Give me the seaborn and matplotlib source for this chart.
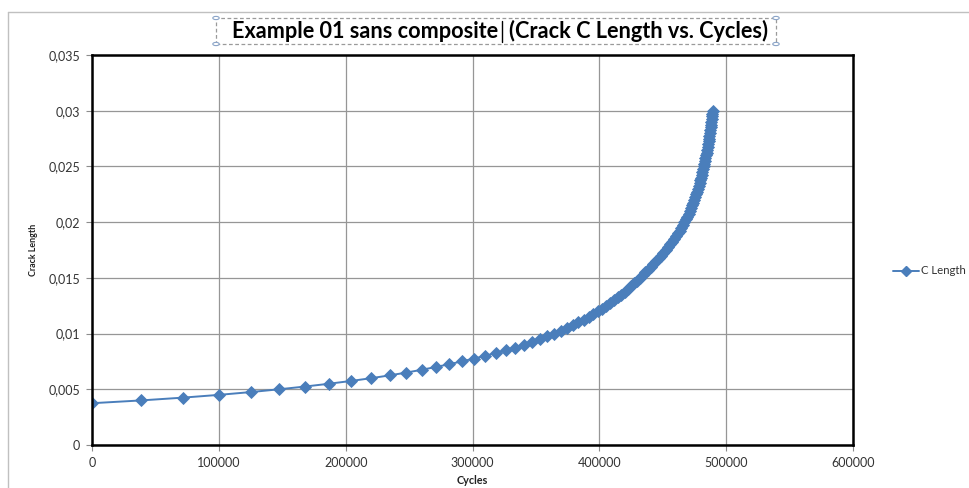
import matplotlib
matplotlib.use("Agg")
import matplotlib.pyplot as plt
from matplotlib.patches import Rectangle, Circle
from matplotlib.lines import Line2D
from matplotlib.ticker import FixedLocator, FixedFormatter
import pandas as pd
import seaborn as sns

# Crack length (m) recorded at each growth increment
crack_length = [
    0.00375, 0.00400, 0.00425, 0.00450, 0.00475, 0.00500, 0.00525, 0.00550,
    0.00575, 0.00600, 0.00625, 0.00650, 0.00675, 0.00700, 0.00725, 0.00750,
    0.00775, 0.00800, 0.00825, 0.00850, 0.00875, 0.00900, 0.00925, 0.00950,
    0.00975, 0.01000, 0.01025, 0.01050, 0.01075, 0.01100, 0.01125, 0.01150,
    0.01175, 0.01200, 0.01225, 0.01250, 0.01275, 0.01300, 0.01325, 0.01350,
    0.01375, 0.01400, 0.01425, 0.01450, 0.01475, 0.01500, 0.01525, 0.01550,
    0.01575, 0.01600, 0.01625, 0.01650, 0.01675, 0.01700, 0.01725, 0.01750,
    0.01775, 0.01800, 0.01825, 0.01850, 0.01875, 0.01900, 0.01925, 0.01950,
    0.01975, 0.02000, 0.02025, 0.02050, 0.02075, 0.02100, 0.02125, 0.02150,
    0.02175, 0.02200, 0.02225, 0.02250, 0.02275, 0.02300, 0.02325, 0.02350,
    0.02375, 0.02400, 0.02425, 0.02450, 0.02475, 0.02500, 0.02525, 0.02550,
    0.02575, 0.02600, 0.02625, 0.02650, 0.02675, 0.02700, 0.02725, 0.02750,
    0.02775, 0.02800, 0.02825, 0.02850, 0.02875, 0.02900, 0.02925, 0.02950,
    0.02975, 0.03000,
]

# Accumulated load cycles at each crack length
cycles = [
    0, 38600, 71600, 100200, 125200, 147500, 168300, 187000,
    204400, 220300, 234700, 247900, 259900, 271100, 281600, 291500,
    300900, 309800, 318200, 326100, 333500, 340400, 346900, 353100,
    359000, 364600, 369700, 374500, 379100, 383500, 387600, 391500,
    395300, 398800, 402200, 405400, 408600, 411500, 414400, 417200,
    419900, 422400, 424900, 427300, 429700, 431900, 434100, 436300,
    438500, 440600, 442700, 444800, 446700, 448700, 450500, 452300,
    454100, 455800, 457400, 459000, 460500, 461900, 463300, 464600,
    465900, 467100, 468300, 469400, 470400, 471400, 472300, 473200,
    474000, 474800, 475600, 476400, 477100, 477700, 478400, 479000,
    479600, 480200, 480700, 481300, 481800, 482300, 482800, 483200,
    483700, 484100, 484500, 484900, 485300, 485700, 486100, 486400,
    486800, 487100, 487400, 487800, 488100, 488400, 488700, 488900,
    489200, 489500,
]

series_name = "C Length"
x_ticks = [0, 100000, 200000, 300000, 400000, 500000, 600000]
x_tick_labels = ["0", "100000", "200000", "300000", "400000", "500000", "600000"]
y_ticks = [0, 0.005, 0.01, 0.015, 0.02, 0.025, 0.03, 0.035]
y_tick_labels = ["0", "0,005", "0,01", "0,015", "0,02", "0,025", "0,03", "0,035"]
title_left = "Example 01 sans composite"
title_right = "(Crack C Length vs. Cycles)"
x_label = "Cycles"
y_label = "Crack Length"

sns.set_theme(style="white")
plt.rcParams["font.family"] = ["Lato", "DejaVu Sans"]

W, H = 969, 488
fig = plt.figure(figsize=(W / 100, H / 100), dpi=100)
fig.patch.set_facecolor("white")


def fx(px):
    return px / W


def fy(py):
    return 1 - py / H


ax = fig.add_axes([fx(92), fy(445), fx(853) - fx(92), fy(55) - fy(445)])

df = pd.DataFrame({"Cycles": cycles, "Crack Length": crack_length})
blue = "#4a7ebb"
sns.lineplot(data=df, x="Cycles", y="Crack Length", ax=ax, sort=False,
             estimator=None, color=blue, linewidth=1.4, marker="D",
             markersize=5.8, markeredgecolor=blue, markeredgewidth=0.6,
             label=series_name, legend=False)

ax.set_xlim(x_ticks[0], x_ticks[-1])
ax.set_ylim(y_ticks[0], y_ticks[-1])
ax.xaxis.set_major_locator(FixedLocator(x_ticks))
ax.xaxis.set_major_formatter(FixedFormatter(x_tick_labels))
ax.yaxis.set_major_locator(FixedLocator(y_ticks))
ax.yaxis.set_major_formatter(FixedFormatter(y_tick_labels))

ax.grid(True, color="#969696", linewidth=0.9)
ax.set_axisbelow(True)
for side in ax.spines.values():
    side.set_visible(True)
    side.set_color("black")
    side.set_linewidth(1.8)

ax.tick_params(axis="both", which="major", direction="out", length=4,
               width=0.8, color="#8c8c8c", labelsize=9, labelcolor="#333333",
               pad=4.5)
ax.tick_params(axis="x", bottom=True)
ax.tick_params(axis="y", left=True)

ax.set_xlabel("")
ax.set_ylabel("")
fig.text(fx(472), fy(481), x_label, ha="center", va="center",
         fontsize=7.8, fontweight="bold", color="#222222")
fig.text(fx(33), fy(250), y_label, ha="center", va="center", rotation=90,
         fontsize=6.4, fontweight="bold", color="#222222")

# Legend to the right of the plot area
handle = Line2D([], [], color=blue, linewidth=1.4, marker="D", markersize=5.0,
                markeredgecolor=blue)
fig.legend([handle], [series_name], loc="center left",
           bbox_to_anchor=(fx(893), fy(271)), frameon=False, fontsize=8.2,
           handlelength=2.3, handletextpad=0.2, borderpad=0, borderaxespad=0,
           labelcolor="#333333")

# Chart-area border
fig.add_artist(Line2D([fx(8), fx(8)], [fy(12), fy(H + 5)], color="#c0c0c0",
                      linewidth=1.0, transform=fig.transFigure))
fig.add_artist(Line2D([fx(8), fx(W + 5)], [fy(12), fy(12)], color="#c0c0c0",
                      linewidth=1.0, transform=fig.transFigure))

# Title with its selection box and text cursor
fig.text(fx(498), fy(31), title_left, ha="right", va="center",
         fontsize=15.6, fontweight="bold", color="black")
fig.text(fx(509), fy(31), title_right, ha="left", va="center",
         fontsize=15.6, fontweight="bold", color="black")
fig.add_artist(Line2D([fx(501.5), fx(501.5)], [fy(21), fy(42)], color="black",
                      linewidth=1.0, transform=fig.transFigure))
fig.add_artist(Rectangle((fx(216), fy(44)), fx(776) - fx(216), fy(18) - fy(44),
                         transform=fig.transFigure, fill=False,
                         edgecolor="#9a9a9a", linewidth=0.9,
                         linestyle=(0, (3, 2))))
for hx, hy in [(216, 18), (776, 18), (216, 44), (776, 44)]:
    fig.add_artist(Circle((fx(hx), fy(hy)), 3.2 / W, transform=fig.transFigure,
                          facecolor="white", edgecolor="#8aa4c8", linewidth=0.8))

fig.savefig("out.png", dpi=100)
